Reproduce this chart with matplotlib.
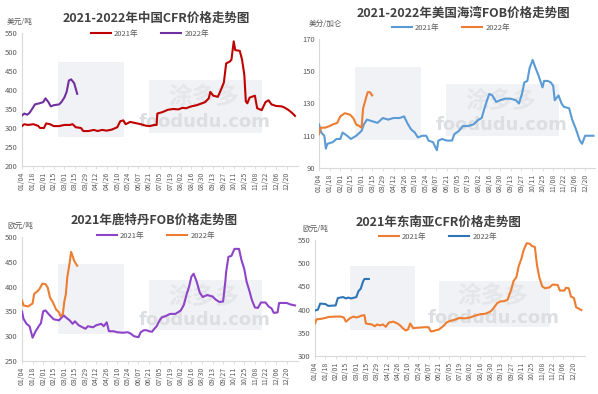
import pandas as pd
import matplotlib
matplotlib.use("Agg")
import matplotlib.pyplot as plt
import matplotlib.dates as mdates
from matplotlib.patches import Rectangle

plt.rcParams['font.family'] = ['Noto Sans CJK SC', 'DejaVu Sans']

W, H = 598, 394

# ---- 中国CFR (美元/吨) ----
cn21_dates = ["01/04", "01/07", "01/12", "01/19", "01/25", "01/28", "02/02", "02/05", "02/10", "02/15",
              "02/22", "03/01", "03/08", "03/12", "03/16", "03/23", "03/26", "04/02", "04/09", "04/14",
              "04/20", "04/26", "05/03", "05/10", "05/14", "05/18", "05/21", "05/27", "06/03", "06/10",
              "06/17", "06/22", "06/28", "07/01", "07/02", "07/09", "07/16", "07/23", "07/30", "08/04",
              "08/09", "08/16", "08/23", "08/30", "09/03", "09/08", "09/10", "09/14", "09/20", "09/24",
              "09/28", "10/01", "10/06", "10/08", "10/11", "10/13", "10/19", "10/22", "10/25", "10/27",
              "10/29", "11/01", "11/08", "11/11", "11/17", "11/22", "11/26", "11/30", "12/06", "12/13",
              "12/16", "12/22", "12/27", "12/31"]
cn21_vals = [305, 310, 308, 310, 306, 300, 300, 312, 310, 305,
             305, 308, 308, 310, 302, 300, 292, 292, 295, 292,
             295, 293, 296, 302, 318, 320, 310, 316, 313, 310,
             306, 305, 308, 308, 338, 342, 348, 350, 349, 353,
             352, 357, 360, 365, 368, 378, 395, 385, 382, 400,
             420, 470, 475, 480, 528, 505, 503, 480, 440, 370,
             365, 380, 385, 352, 347, 368, 373, 362, 358, 357,
             355, 348, 340, 332]
cn22_dates = ["01/04", "01/07", "01/11", "01/14", "01/18", "01/21", "01/27", "02/01", "02/04", "02/08",
              "02/11", "02/15", "02/22", "02/25", "03/01", "03/04", "03/07", "03/10", "03/14", "03/18"]
cn22_vals = [333, 338, 335, 340, 352, 362, 365, 368, 378, 368,
             357, 360, 362, 368, 380, 395, 425, 428, 418, 390]

# ---- 美国海湾FOB (美分/加仑) ----
us21_dates = ["01/04", "01/07", "01/11", "01/13", "01/15", "01/22", "01/27", "02/01", "02/04", "02/10",
              "02/15", "02/22", "03/01", "03/04", "03/08", "03/15", "03/22", "03/29", "04/05", "04/12",
              "04/20", "04/26", "04/30", "05/05", "05/10", "05/14", "05/20", "05/25", "05/28", "06/03",
              "06/08", "06/10", "06/15", "06/21", "06/28", "07/01", "07/07", "07/12", "07/19", "07/26",
              "08/02", "08/06", "08/09", "08/13", "08/16", "08/20", "08/25", "08/30", "09/06", "09/13",
              "09/20", "09/24", "09/28", "10/01", "10/05", "10/08", "10/12", "10/15", "10/20", "10/25",
              "10/27", "11/01", "11/05", "11/08", "11/10", "11/15", "11/19", "11/22", "11/29", "12/03",
              "12/08", "12/13", "12/16", "12/20", "12/31"]
us21_vals = [117, 112, 110, 102, 105, 106, 108, 108, 112, 110,
             108, 110, 113, 117, 120, 119, 118, 121, 120, 121,
             121, 122, 118, 114, 112, 109, 110, 110, 107, 106,
             101, 107, 108, 107, 107, 111, 113, 116, 116, 117,
             120, 121, 126, 132, 136, 135, 131, 132, 133, 133,
             132, 130, 136, 143, 144, 152, 157, 153, 147, 140,
             144, 144, 143, 141, 132, 135, 130, 128, 127, 120,
             114, 107, 105, 110, 110]
us22_dates = ["01/04", "01/06", "01/12", "01/18", "01/22", "01/28", "02/01", "02/07", "02/14", "02/18",
              "02/22", "02/26", "03/01", "03/03", "03/06", "03/09", "03/12", "03/15"]
us22_vals = [111, 115, 115, 116, 117, 118, 122, 124, 123, 121,
             117, 116, 115, 127, 132, 137, 137, 135]

# ---- 鹿特丹FOB (欧元/吨) ----
rt21_dates = ["01/04", "01/06", "01/10", "01/14", "01/18", "01/22", "01/27", "01/29", "02/01", "02/04",
              "02/08", "02/11", "02/15", "02/22", "02/28", "03/03", "03/08", "03/12", "03/15", "03/20",
              "03/25", "03/29", "04/01", "04/08", "04/12", "04/19", "04/22", "04/26", "04/29", "05/05",
              "05/10", "05/17", "05/24", "05/28", "06/01", "06/07", "06/10", "06/14", "06/18", "06/21",
              "06/25", "06/28", "07/01", "07/05", "07/08", "07/12", "07/19", "07/26", "08/02", "08/06",
              "08/10", "08/13", "08/16", "08/19", "08/23", "08/27", "08/31", "09/06", "09/13", "09/17",
              "09/22", "09/27", "09/30", "10/01", "10/04", "10/08", "10/12", "10/18", "10/21", "10/25",
              "10/28", "11/01", "11/04", "11/08", "11/12", "11/16", "11/22", "11/26", "11/30", "12/03",
              "12/08", "12/10", "12/20", "12/25", "12/31"]
rt21_vals = [350, 335, 325, 320, 297, 310, 322, 326, 350, 352,
             345, 340, 334, 332, 342, 338, 332, 325, 330, 322,
             318, 315, 320, 318, 322, 325, 320, 328, 310, 310,
             308, 307, 308, 305, 300, 298, 308, 312, 312, 310,
             309, 315, 320, 332, 338, 340, 345, 345, 352, 363,
             386, 400, 420, 426, 410, 388, 379, 383, 380, 374,
             369, 370, 412, 430, 460, 462, 476, 476, 455, 435,
             410, 390, 373, 358, 357, 368, 368, 360, 356, 347,
             348, 367, 367, 364, 362]
rt22_dates = ["01/04", "01/06", "01/12", "01/18", "01/20", "01/24", "01/27", "01/31", "02/04", "02/07",
              "02/10", "02/14", "02/18", "02/22", "02/24", "02/27", "03/01", "03/03", "03/05", "03/08",
              "03/10", "03/14", "03/18"]
rt22_vals = [372, 362, 360, 366, 385, 390, 395, 406, 405, 398,
             378, 368, 354, 348, 340, 345, 370, 385, 420, 448,
             470, 452, 442]

# ---- 东南亚CFR (欧元/吨) ----
sea21_dates = ["01/04", "01/06", "01/12", "01/18", "01/22", "02/01", "02/08", "02/12", "02/15", "02/20",
               "02/25", "03/01", "03/05", "03/08", "03/12", "03/14", "03/22", "03/26", "03/29", "04/02",
               "04/06", "04/10", "04/14", "04/20", "04/26", "04/30", "05/03", "05/07", "05/10", "05/13",
               "05/17", "05/24", "06/01", "06/07", "06/10", "06/14", "06/18", "06/21", "06/25", "06/28",
               "07/01", "07/05", "07/12", "07/19", "07/26", "08/02", "08/09", "08/16", "08/23", "08/30",
               "09/03", "09/08", "09/13", "09/17", "09/22", "09/27", "09/30", "10/04", "10/07", "10/11",
               "10/14", "10/18", "10/22", "10/25", "10/29", "11/01", "11/04", "11/08", "11/12", "11/18",
               "11/22", "11/29", "12/02", "12/08", "12/10", "12/14", "12/17", "12/21", "12/24", "12/31"]
sea21_vals = [370, 379, 380, 382, 384, 385, 385, 383, 374, 381,
              385, 383, 385, 387, 388, 370, 368, 364, 368, 366,
              368, 363, 372, 374, 370, 365, 360, 355, 357, 370,
              360, 361, 362, 362, 353, 354, 356, 357, 362, 366,
              372, 375, 378, 382, 381, 383, 387, 390, 391, 396,
              403, 414, 418, 418, 421, 443, 461, 470, 493, 511,
              529, 543, 542, 537, 535, 495, 470, 450, 446, 448,
              454, 453, 441, 441, 447, 446, 428, 425, 405, 399]
sea22_dates = ["01/04", "01/08", "01/11", "01/18", "01/22", "02/01", "02/04", "02/11", "02/15", "02/18",
               "02/22", "03/01", "03/04", "03/07", "03/10", "03/12", "03/18"]
sea22_vals = [398, 400, 413, 412, 408, 409, 425, 427, 424, 426,
              424, 427, 440, 445, 460, 466, 466]

GRAY = "#595959"


def to_dates(md):
    return pd.to_datetime(["2021/" + s for s in md], format="%Y/%m/%d")


def fx(px):
    return px / W


def fy(py):
    return 1 - py / H


def panel(fig, box, title, tpos, unit, upos, s1, s2, ylim, ystep, xend, lpos):
    l, t, r, b = box
    ax = fig.add_axes([fx(l), fy(b), fx(r - l), (b - t) / H])
    # watermark panels
    ax.add_patch(Rectangle((0.13, 0.22), 0.24, 0.56, transform=ax.transAxes,
                           color="#f1f2f5", zorder=0, lw=0))
    ax.add_patch(Rectangle((0.46, 0.25), 0.41, 0.40, transform=ax.transAxes,
                           color="#f1f2f5", zorder=0, lw=0))
    ax.text(0.66, 0.33, "foodudu.com", transform=ax.transAxes, fontsize=13,
            color="#dcdee2", ha="center", va="center", fontweight="bold",
            family="DejaVu Sans", zorder=1)
    ax.text(0.66, 0.52, "涂多多", transform=ax.transAxes, fontsize=17,
            color="#e4e6ea", ha="center", va="center", fontweight="bold", zorder=1)

    (d1, v1, c1, n1), (d2, v2, c2, n2) = s1, s2
    ax.plot(to_dates(d1), v1, color=c1, lw=1.5, label=n1, zorder=3)
    ax.plot(to_dates(d2), v2, color=c2, lw=1.5, label=n2, zorder=3)

    ax.set_ylim(*ylim)
    ax.set_yticks(range(ylim[0], ylim[1] + 1, ystep))
    ax.set_xlim(pd.Timestamp("2021-01-04"), pd.Timestamp(xend))
    ax.set_xticks(pd.date_range("2021-01-04", "2021-12-20", freq="14D"))
    ax.xaxis.set_major_formatter(mdates.DateFormatter("%m/%d"))
    ax.tick_params(axis="x", labelrotation=90, labelsize=5, colors=GRAY,
                   length=2.5, width=0.6, color="#d9d9d9", pad=1.5)
    ax.tick_params(axis="y", labelsize=5.5, colors=GRAY, length=0, pad=3)
    for s in ("top", "right"):
        ax.spines[s].set_visible(False)
    for s in ("left", "bottom"):
        ax.spines[s].set_color("#d9d9d9")
        ax.spines[s].set_linewidth(0.8)
    ax.set_facecolor("none")

    fig.text(fx(tpos[0]), fy(tpos[1]), title, ha="center", va="center",
             fontsize=9, fontweight="bold", color="#404040")
    fig.text(fx(upos[0]), fy(upos[1]), unit, ha="left", va="center",
             fontsize=5.5, color=GRAY)
    ax.legend(loc="center", bbox_to_anchor=(fx(lpos[0]), fy(lpos[1])),
              bbox_transform=fig.transFigure, ncol=2, frameon=False,
              fontsize=5.5, labelcolor=GRAY, handlelength=2.6,
              columnspacing=3.0, handletextpad=0.4)
    return ax


fig = plt.figure(figsize=(W / 100, H / 100), dpi=100)

panel(fig, (22, 33, 298, 166), "2021-2022年中国CFR价格走势图", (156, 18),
      "美元/吨", (7, 22),
      (cn21_dates, cn21_vals, "#c00000", "2021年"),
      (cn22_dates, cn22_vals, "#7030a0", "2022年"),
      (200, 550), 50, "2022-01-04", (150, 34))

panel(fig, (319, 39, 595, 168), "2021-2022年美国海湾FOB价格走势图", (463, 13),
      "美分/加仑", (309, 24),
      (us21_dates, us21_vals, "#5b9bd5", "2021年"),
      (us22_dates, us22_vals, "#ed7d31", "2022年"),
      (90, 170), 20, "2022-01-02", (451, 28))

panel(fig, (22, 237, 298, 361), "2021年鹿特丹FOB价格走势图", (154, 220),
      "欧元/吨", (7, 226),
      (rt21_dates, rt21_vals, "#8e44c8", "2021年"),
      (rt22_dates, rt22_vals, "#ed7d31", "2022年"),
      (250, 500), 50, "2022-01-04", (156, 236))

panel(fig, (315, 240, 585, 356), "2021年东南亚CFR价格走势图", (439, 222),
      "欧元/吨", (302, 229),
      (sea21_dates, sea21_vals, "#ed7d31", "2021年"),
      (sea22_dates, sea22_vals, "#2e75b6", "2022年"),
      (300, 550), 50, "2022-01-05", (438, 237))

fig.savefig("out.png", dpi=100)
